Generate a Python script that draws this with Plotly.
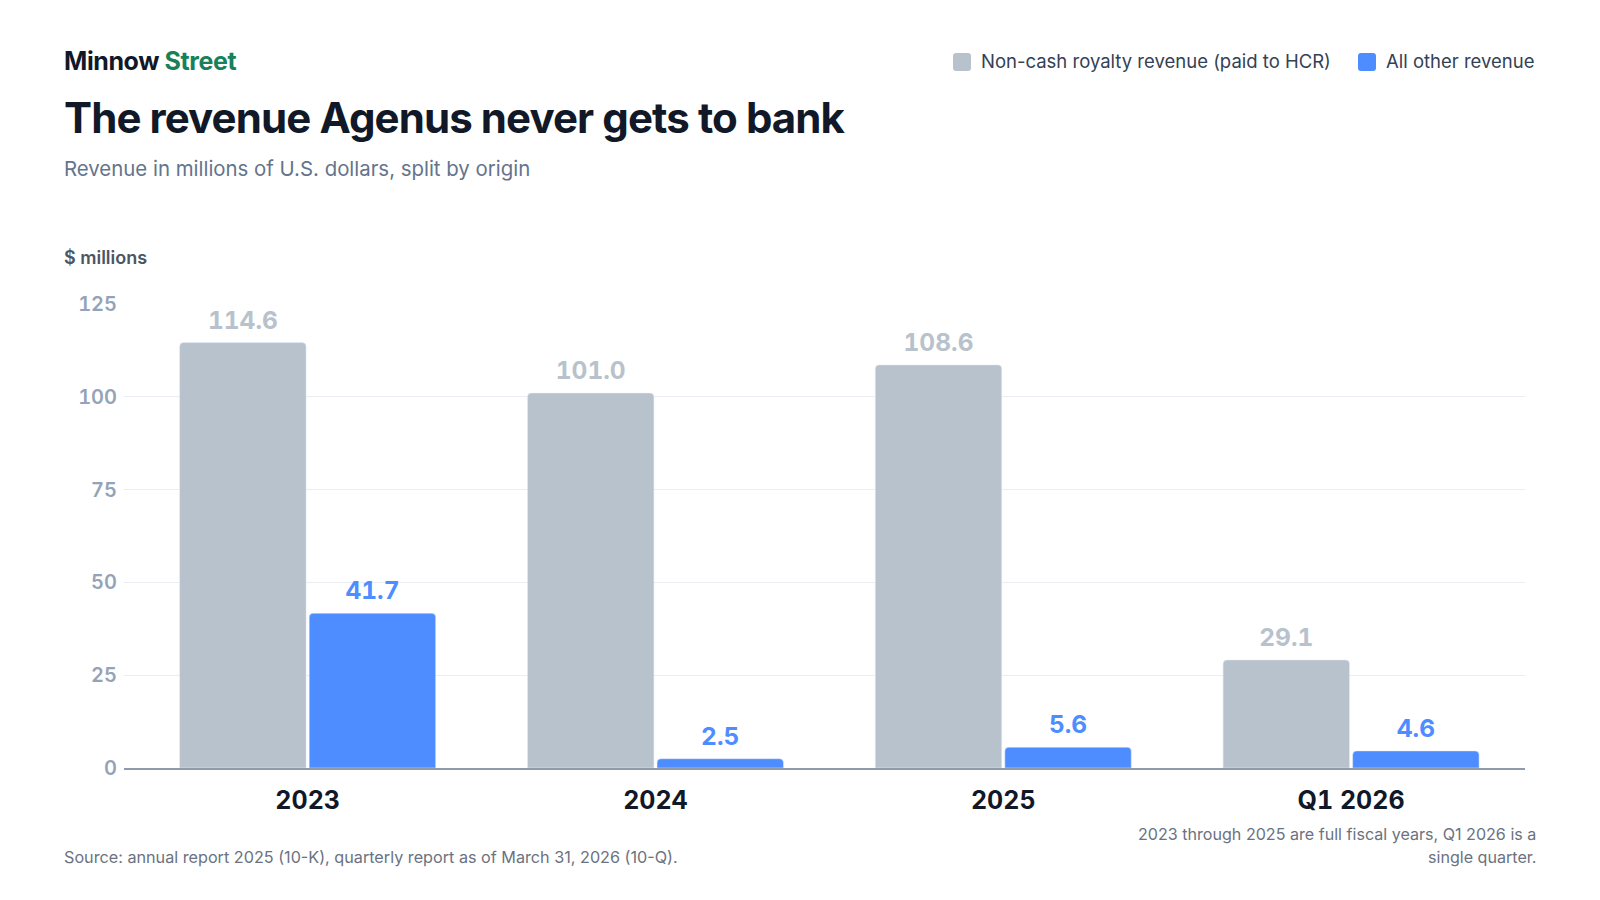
import plotly.graph_objects as go

periods = ["2023", "2024", "2025", "Q1 2026"]
royalty_revenue = [114.6, 101.0, 108.6, 29.1]
other_revenue = [41.7, 2.5, 5.6, 4.6]
y_ticks = [0, 25, 50, 75, 100, 125]
series_names = ["Non-cash royalty revenue (paid to HCR)", "All other revenue"]

GRAY = "#b8c2cc"
BLUE = "#4d8dff"
FONT = "Inter"
TNUM = "<span style='font-variant-numeric:tabular-nums'>{}</span>"

# plot box in page pixels
L, R, T, B = 116, 1517, 296, 760


def px(x):
    return (x - L) / (R - L)


def py(y):
    return (B - y) / (B - T)


fig = go.Figure()
for group, name, values, color in [("a", series_names[0], royalty_revenue, GRAY),
                                   ("b", series_names[1], other_revenue, BLUE)]:
    fig.add_trace(go.Bar(
        name=name,
        x=periods,
        y=values,
        offsetgroup=group,
        marker=dict(color=color, cornerradius=4),
        hoverinfo="skip",
        showlegend=False,
    ))
    # value labels, grouped with the bars
    fig.add_trace(go.Scatter(
        x=periods,
        y=values,
        offsetgroup=group,
        mode="markers+text",
        marker=dict(size=11, opacity=0),
        text=[TNUM.format(f"{v:.1f}") for v in values],
        textposition="top center",
        textfont=dict(family=FONT, size=24.5, color=color, weight=700),
        cliponaxis=False,
        hoverinfo="skip",
        showlegend=False,
    ))

annotations = [
    dict(text="<span style='letter-spacing:-0.4px'><b>Minnow <span style='color:#16815a'>Street</span></b></span>",
         x=54, y=53, font=dict(size=25, color="#111827")),
    dict(text="<span style='letter-spacing:-0.9px'><b>The revenue Agenus never gets to bank</b></span>",
         x=54, y=110, font=dict(size=42, color="#111827")),
    dict(text="Revenue in millions of U.S. dollars, split by origin",
         x=54, y=160, font=dict(size=20.4, color="#64748b")),
    dict(text="$ millions",
         x=54, y=249, font=dict(size=18, color="#4b5563", weight=600)),
    dict(text="Source: annual report 2025 (10-K), quarterly report as of March 31, 2026 (10-Q).",
         x=54, y=849, font=dict(size=16.2, color="#6b7280")),
    dict(text=series_names[0], x=971, y=53, font=dict(size=18.5, color="#334155")),
    dict(text=series_names[1], x=1376, y=53, font=dict(size=18.5, color="#334155")),
]
ann_list = []
for a in annotations:
    ann_list.append(dict(
        text=a["text"], xref="paper", yref="paper",
        x=px(a["x"]), y=py(a["y"]),
        xanchor="left", yanchor="middle", showarrow=False,
        font=dict(family=FONT, **a["font"]),
    ))
for line, y in [("2023 through 2025 are full fiscal years, Q1 2026 is a", 825.5),
                ("single quarter.", 849)]:
    ann_list.append(dict(
        text=line, xref="paper", yref="paper",
        x=px(1530), y=py(y),
        xanchor="right", yanchor="middle", showarrow=False,
        font=dict(family=FONT, size=16.1, color="#6b7280"),
    ))

# rounded legend swatches
swatch = ("M-6,-9 H6 Q9,-9 9,-6 V6 Q9,9 6,9 H-6 Q-9,9 -9,6 V-6 "
          "Q-9,-9 -6,-9 Z")
shapes = []
for cx, color in [(954, GRAY), (1359, BLUE)]:
    shapes.append(dict(
        type="path", path=swatch,
        xref="paper", yref="paper",
        xsizemode="pixel", ysizemode="pixel",
        xanchor=px(cx), yanchor=py(54),
        fillcolor=color, line=dict(width=0),
    ))

fig.update_layout(
    width=1600,
    height=900,
    paper_bgcolor="white",
    plot_bgcolor="white",
    margin=dict(l=L, r=1600 - R, t=T, b=900 - B),
    barmode="group",
    bargap=0.255,
    bargroupgap=0.024,
    scattermode="group",
    scattergap=0.255,
    font=dict(family=FONT, color="#111827"),
    showlegend=False,
    annotations=ann_list,
    shapes=shapes,
    xaxis=dict(
        range=[-0.528, 3.5],
        tickvals=periods,
        ticktext=[TNUM.format(p) for p in periods],
        showgrid=False,
        showline=True,
        linecolor="#8f9aab",
        linewidth=2,
        ticks="",
        ticklabelstandoff=9,
        tickfont=dict(family=FONT, size=25, color="#111827", weight=700),
        fixedrange=True,
    ),
    yaxis=dict(
        range=[0, 125],
        tickvals=y_ticks,
        ticktext=[TNUM.format(v) for v in y_ticks],
        showgrid=True,
        gridcolor="#eaedf1",
        gridwidth=1,
        zeroline=False,
        showline=False,
        ticks="",
        ticklabelstandoff=6,
        tickfont=dict(family=FONT, size=20, color="#94a3b8", weight=600),
        fixedrange=True,
    ),
)

fig.write_html("out.html")
